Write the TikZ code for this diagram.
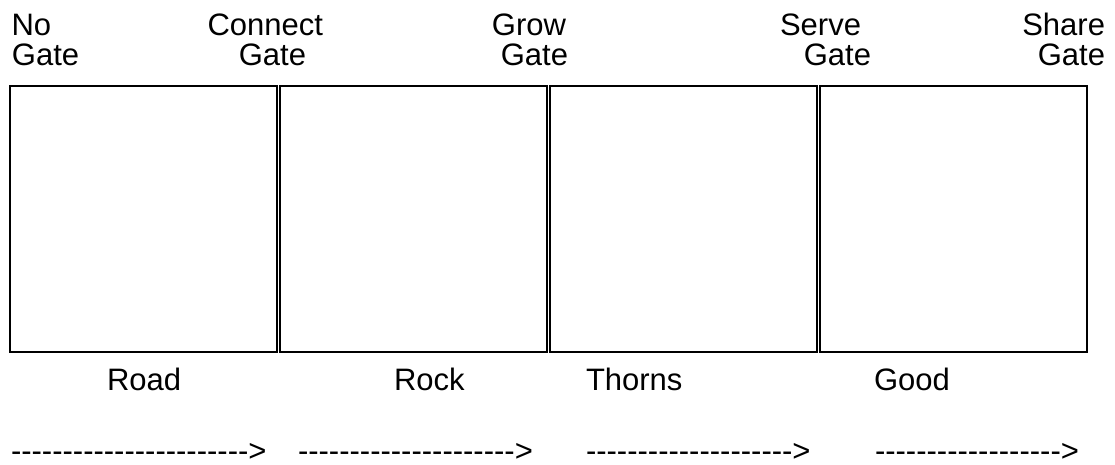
\documentclass[tikz,border=0pt]{standalone}
\usepackage{fontspec}
\setmainfont{Liberation Sans}
\usetikzlibrary{positioning}

\newcommand{\dashrun}[1]{\foreach \k in {1,...,#1}{-}\textgreater}

\begin{document}
\begin{tikzpicture}[x=1pt, y=-1pt,
  every node/.style={inner sep=0pt, outer sep=0pt, font=\fontsize{31}{30}\selectfont},
  field/.style={draw, line width=1.6pt, minimum width=267pt, minimum height=266pt}]
  \useasboundingbox (0,0) rectangle (1115,464);

  \node [field] (road) at (143.5,219) {};
  \node [field, right = 3pt of road] (rock) {};
  \node [field, right = 3pt of rock] (thorns) {};
  \node [field, right = 3pt of thorns] (good) {};

  % gates
  \node [anchor=base west] (noA) at (11.5,35) {No};
  \node [anchor=base west] (noB) at (12,65) {Gate};
  \node [anchor=base east] (connectA) at (323,35) {Connect};
  \node [anchor=base east] (connectB) at (306,65) {Gate};
  \node [anchor=base east] (growA) at (566,35) {Grow};
  \node [anchor=base east] (growB) at (568,65) {Gate};
  \node [anchor=base east] (serveA) at (861,35) {Serve};
  \node [anchor=base east] (serveB) at (871,65) {Gate};
  \node [anchor=base east] (shareA) at (1105,35) {Share};
  \node [anchor=base east] (shareB) at (1105,65) {Gate};

  % soils
  \node [anchor=base west] (roadL) at (107,390) {Road};
  \node [anchor=base west] (rockL) at (394,390) {Rock};
  \node [anchor=base west] (thornsL) at (586,390) {Thorns};
  \node [anchor=base west] (goodL) at (874,390) {Good};

  % steps
  \node [anchor=base west] (stepA) at (11,461) {\dashrun{23}};
  \node [anchor=base west] (stepB) at (298,461) {\dashrun{21}};
  \node [anchor=base west] (stepC) at (586,461) {\dashrun{20}};
  \node [anchor=base west] (stepD) at (875,461) {\dashrun{18}};
\end{tikzpicture}
\end{document}
